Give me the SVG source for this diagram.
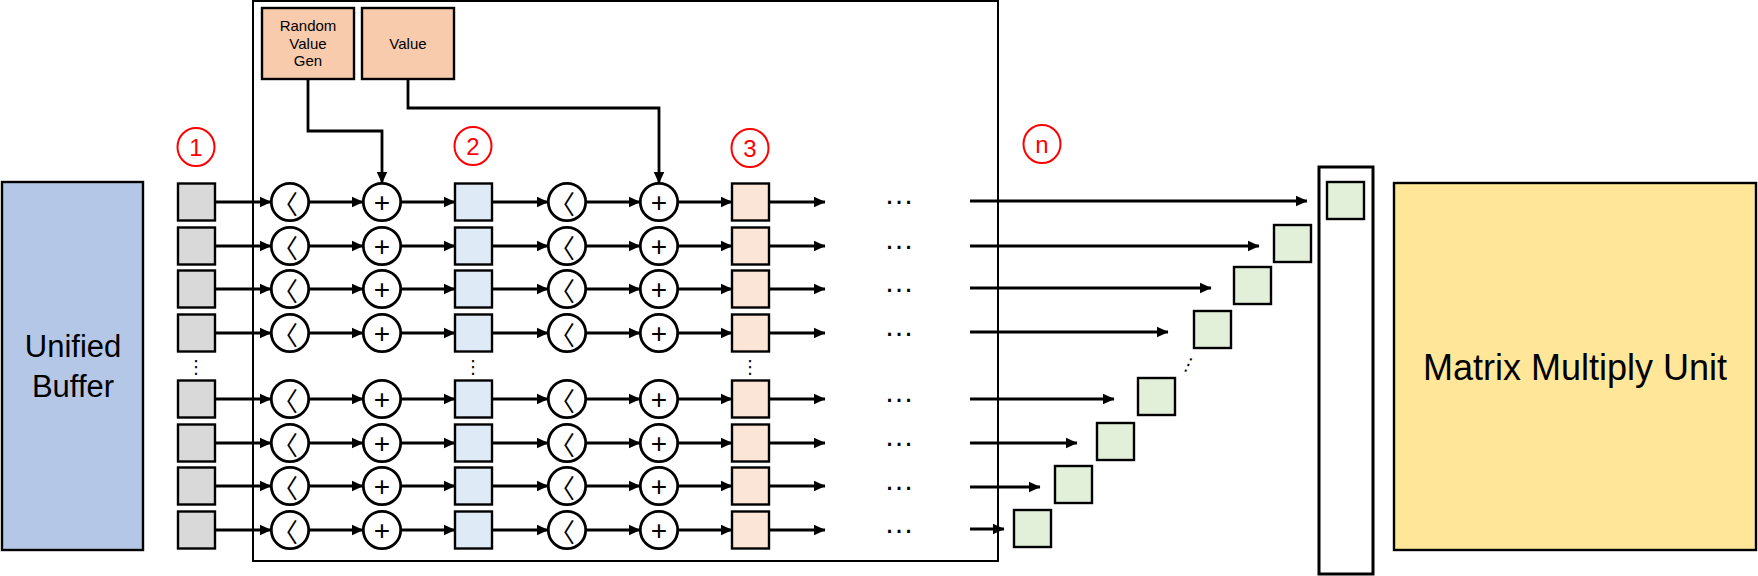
<svg xmlns="http://www.w3.org/2000/svg" width="1758" height="576" viewBox="0 0 1758 576">
<defs>
<marker id="ah" markerWidth="12" markerHeight="12" refX="11.5" refY="6" orient="auto" markerUnits="userSpaceOnUse"><path d="M0,0.5 L12,6 L0,11.5 z" fill="#000"/></marker>
<style>
.bx{stroke:#000;stroke-width:2.4}
.gray{fill:#D9D9D9}.blue{fill:#DEEBF7}.peach{fill:#FBE5D6}.org{fill:#F8CBAD}.grn{fill:#E2F0D9}
.op{fill:#fff;stroke:#000;stroke-width:2.8}
.lbl{fill:none;stroke:#FF0000;stroke-width:2}
.ln{fill:none;stroke:#000;stroke-width:2.8;marker-end:url(#ah)}
.sym{font-family:"Liberation Sans",Arial,sans-serif;font-size:28px;text-anchor:middle;dominant-baseline:central;fill:#000}
.chev{font-family:"Noto Sans CJK KR",sans-serif;font-size:26px;text-anchor:middle;dominant-baseline:central;fill:#000}
.red{font-family:"Liberation Sans",Arial,sans-serif;font-size:24px;text-anchor:middle;fill:#FF0000}
.t{font-family:"Liberation Sans",Arial,sans-serif;fill:#000;text-anchor:middle}
.dots{font-family:"Liberation Sans",Arial,sans-serif;font-size:30px;text-anchor:middle;fill:#000}
.vd{font-family:"DejaVu Sans",sans-serif;font-size:18px;text-anchor:middle;fill:#000}
</style>
</defs>

<g id="frame"><rect x="253" y="1" width="745" height="560" fill="none" stroke="#000" stroke-width="2"/></g>

<g id="unified-buffer"><rect class="bx" x="2" y="182" width="141" height="368" fill="#B4C7E7"/>
<text class="t" x="73" y="357" font-size="31">Unified</text><text class="t" x="73" y="397" font-size="31">Buffer</text></g>

<g id="random-value-gen"><rect class="bx org" x="262" y="8" width="92" height="71"/>
<text class="t" x="308" y="31" font-size="15">Random</text><text class="t" x="308" y="49" font-size="15">Value</text><text class="t" x="308" y="66" font-size="15">Gen</text></g>
<g id="value"><rect class="bx org" x="362" y="8" width="92" height="71"/>
<text class="t" x="408" y="49" font-size="15">Value</text></g>

<g id="labels">
<ellipse class="lbl" cx="196" cy="147" rx="18.5" ry="19"/><text class="red" x="196" y="156">1</text>
<ellipse class="lbl" cx="473" cy="146" rx="18.5" ry="19"/><text class="red" x="473" y="155">2</text>
<ellipse class="lbl" cx="750" cy="148" rx="18.5" ry="19"/><text class="red" x="750" y="157">3</text>
<ellipse class="lbl" cx="1042" cy="144" rx="18.5" ry="19"/><text class="red" x="1042" y="153">n</text>
</g>

<g id="input-regs">
<rect class="bx gray" x="178" y="183.5" width="37" height="37"/>
<rect class="bx gray" x="178" y="227.5" width="37" height="37"/>
<rect class="bx gray" x="178" y="270.5" width="37" height="37"/>
<rect class="bx gray" x="178" y="314.5" width="37" height="37"/>
<rect class="bx gray" x="178" y="380.5" width="37" height="37"/>
<rect class="bx gray" x="178" y="424.5" width="37" height="37"/>
<rect class="bx gray" x="178" y="467.5" width="37" height="37"/>
<rect class="bx gray" x="178" y="511.5" width="37" height="37"/>
<text class="vd" x="196" y="373">⋮</text>
</g>

<g id="stage1-regs">
<rect class="bx blue" x="455" y="183.5" width="37" height="37"/>
<rect class="bx blue" x="455" y="227.5" width="37" height="37"/>
<rect class="bx blue" x="455" y="270.5" width="37" height="37"/>
<rect class="bx blue" x="455" y="314.5" width="37" height="37"/>
<rect class="bx blue" x="455" y="380.5" width="37" height="37"/>
<rect class="bx blue" x="455" y="424.5" width="37" height="37"/>
<rect class="bx blue" x="455" y="467.5" width="37" height="37"/>
<rect class="bx blue" x="455" y="511.5" width="37" height="37"/>
<text class="vd" x="473" y="373">⋮</text>
</g>

<g id="stage2-regs">
<rect class="bx peach" x="732" y="183.5" width="37" height="37"/>
<rect class="bx peach" x="732" y="227.5" width="37" height="37"/>
<rect class="bx peach" x="732" y="270.5" width="37" height="37"/>
<rect class="bx peach" x="732" y="314.5" width="37" height="37"/>
<rect class="bx peach" x="732" y="380.5" width="37" height="37"/>
<rect class="bx peach" x="732" y="424.5" width="37" height="37"/>
<rect class="bx peach" x="732" y="467.5" width="37" height="37"/>
<rect class="bx peach" x="732" y="511.5" width="37" height="37"/>
<text class="vd" x="750" y="373">⋮</text>
</g>

<g id="compare-ops-1">
<circle class="op" cx="290" cy="202" r="18.7"/><text class="chev" x="285" y="202">〈</text>
<circle class="op" cx="290" cy="246" r="18.7"/><text class="chev" x="285" y="246">〈</text>
<circle class="op" cx="290" cy="289" r="18.7"/><text class="chev" x="285" y="289">〈</text>
<circle class="op" cx="290" cy="333" r="18.7"/><text class="chev" x="285" y="333">〈</text>
<circle class="op" cx="290" cy="399" r="18.7"/><text class="chev" x="285" y="399">〈</text>
<circle class="op" cx="290" cy="443" r="18.7"/><text class="chev" x="285" y="443">〈</text>
<circle class="op" cx="290" cy="486" r="18.7"/><text class="chev" x="285" y="486">〈</text>
<circle class="op" cx="290" cy="530" r="18.7"/><text class="chev" x="285" y="530">〈</text>
</g>
<g id="add-ops-1">
<circle class="op" cx="382" cy="202" r="18.7"/><text class="sym" x="382" y="202">+</text>
<circle class="op" cx="382" cy="246" r="18.7"/><text class="sym" x="382" y="246">+</text>
<circle class="op" cx="382" cy="289" r="18.7"/><text class="sym" x="382" y="289">+</text>
<circle class="op" cx="382" cy="333" r="18.7"/><text class="sym" x="382" y="333">+</text>
<circle class="op" cx="382" cy="399" r="18.7"/><text class="sym" x="382" y="399">+</text>
<circle class="op" cx="382" cy="443" r="18.7"/><text class="sym" x="382" y="443">+</text>
<circle class="op" cx="382" cy="486" r="18.7"/><text class="sym" x="382" y="486">+</text>
<circle class="op" cx="382" cy="530" r="18.7"/><text class="sym" x="382" y="530">+</text>
</g>
<g id="compare-ops-2">
<circle class="op" cx="567" cy="202" r="18.7"/><text class="chev" x="562" y="202">〈</text>
<circle class="op" cx="567" cy="246" r="18.7"/><text class="chev" x="562" y="246">〈</text>
<circle class="op" cx="567" cy="289" r="18.7"/><text class="chev" x="562" y="289">〈</text>
<circle class="op" cx="567" cy="333" r="18.7"/><text class="chev" x="562" y="333">〈</text>
<circle class="op" cx="567" cy="399" r="18.7"/><text class="chev" x="562" y="399">〈</text>
<circle class="op" cx="567" cy="443" r="18.7"/><text class="chev" x="562" y="443">〈</text>
<circle class="op" cx="567" cy="486" r="18.7"/><text class="chev" x="562" y="486">〈</text>
<circle class="op" cx="567" cy="530" r="18.7"/><text class="chev" x="562" y="530">〈</text>
</g>
<g id="add-ops-2">
<circle class="op" cx="659" cy="202" r="18.7"/><text class="sym" x="659" y="202">+</text>
<circle class="op" cx="659" cy="246" r="18.7"/><text class="sym" x="659" y="246">+</text>
<circle class="op" cx="659" cy="289" r="18.7"/><text class="sym" x="659" y="289">+</text>
<circle class="op" cx="659" cy="333" r="18.7"/><text class="sym" x="659" y="333">+</text>
<circle class="op" cx="659" cy="399" r="18.7"/><text class="sym" x="659" y="399">+</text>
<circle class="op" cx="659" cy="443" r="18.7"/><text class="sym" x="659" y="443">+</text>
<circle class="op" cx="659" cy="486" r="18.7"/><text class="sym" x="659" y="486">+</text>
<circle class="op" cx="659" cy="530" r="18.7"/><text class="sym" x="659" y="530">+</text>
</g>

<g id="ellipses">
<text class="dots" x="899" y="204">…</text>
<text class="dots" x="899" y="249">…</text>
<text class="dots" x="899" y="292">…</text>
<text class="dots" x="899" y="336">…</text>
<text class="dots" x="899" y="402">…</text>
<text class="dots" x="899" y="446">…</text>
<text class="dots" x="899" y="490">…</text>
<text class="dots" x="899" y="533">…</text>
</g>

<g id="output-regs">
<rect class="bx grn" x="1327" y="182" width="37" height="37"/>
<rect class="bx grn" x="1274" y="225" width="37" height="37"/>
<rect class="bx grn" x="1234" y="267" width="37" height="37"/>
<rect class="bx grn" x="1194" y="311" width="37" height="37"/>
<rect class="bx grn" x="1138" y="378" width="37" height="37"/>
<rect class="bx grn" x="1097" y="423" width="37" height="37"/>
<rect class="bx grn" x="1055" y="466" width="37" height="37"/>
<rect class="bx grn" x="1014" y="510" width="37" height="37"/>
<text class="vd" transform="translate(1186,370) rotate(25)" x="0" y="0">⋮</text>
</g>

<g id="input-column"><rect x="1319" y="167" width="54" height="407" fill="none" stroke="#000" stroke-width="3"/></g>

<g id="matrix-multiply-unit"><rect class="bx" x="1394" y="183" width="362" height="367" fill="#FFE699"/>
<text class="t" x="1575" y="380" font-size="36">Matrix Multiply Unit</text></g>

<g id="connectors">
<path class="ln" d="M308,79 V131 H382 V183"/>
<path class="ln" d="M408,79 V108 H659 V183"/>
<line class="ln" x1="215" y1="202" x2="271" y2="202"/><line class="ln" x1="309" y1="202" x2="363" y2="202"/><line class="ln" x1="401" y1="202" x2="455" y2="202"/><line class="ln" x1="492" y1="202" x2="548" y2="202"/><line class="ln" x1="586" y1="202" x2="640" y2="202"/><line class="ln" x1="678" y1="202" x2="732" y2="202"/><line class="ln" x1="769" y1="202" x2="825" y2="202"/>
<line class="ln" x1="215" y1="246" x2="271" y2="246"/><line class="ln" x1="309" y1="246" x2="363" y2="246"/><line class="ln" x1="401" y1="246" x2="455" y2="246"/><line class="ln" x1="492" y1="246" x2="548" y2="246"/><line class="ln" x1="586" y1="246" x2="640" y2="246"/><line class="ln" x1="678" y1="246" x2="732" y2="246"/><line class="ln" x1="769" y1="246" x2="825" y2="246"/>
<line class="ln" x1="215" y1="289" x2="271" y2="289"/><line class="ln" x1="309" y1="289" x2="363" y2="289"/><line class="ln" x1="401" y1="289" x2="455" y2="289"/><line class="ln" x1="492" y1="289" x2="548" y2="289"/><line class="ln" x1="586" y1="289" x2="640" y2="289"/><line class="ln" x1="678" y1="289" x2="732" y2="289"/><line class="ln" x1="769" y1="289" x2="825" y2="289"/>
<line class="ln" x1="215" y1="333" x2="271" y2="333"/><line class="ln" x1="309" y1="333" x2="363" y2="333"/><line class="ln" x1="401" y1="333" x2="455" y2="333"/><line class="ln" x1="492" y1="333" x2="548" y2="333"/><line class="ln" x1="586" y1="333" x2="640" y2="333"/><line class="ln" x1="678" y1="333" x2="732" y2="333"/><line class="ln" x1="769" y1="333" x2="825" y2="333"/>
<line class="ln" x1="215" y1="399" x2="271" y2="399"/><line class="ln" x1="309" y1="399" x2="363" y2="399"/><line class="ln" x1="401" y1="399" x2="455" y2="399"/><line class="ln" x1="492" y1="399" x2="548" y2="399"/><line class="ln" x1="586" y1="399" x2="640" y2="399"/><line class="ln" x1="678" y1="399" x2="732" y2="399"/><line class="ln" x1="769" y1="399" x2="825" y2="399"/>
<line class="ln" x1="215" y1="443" x2="271" y2="443"/><line class="ln" x1="309" y1="443" x2="363" y2="443"/><line class="ln" x1="401" y1="443" x2="455" y2="443"/><line class="ln" x1="492" y1="443" x2="548" y2="443"/><line class="ln" x1="586" y1="443" x2="640" y2="443"/><line class="ln" x1="678" y1="443" x2="732" y2="443"/><line class="ln" x1="769" y1="443" x2="825" y2="443"/>
<line class="ln" x1="215" y1="486" x2="271" y2="486"/><line class="ln" x1="309" y1="486" x2="363" y2="486"/><line class="ln" x1="401" y1="486" x2="455" y2="486"/><line class="ln" x1="492" y1="486" x2="548" y2="486"/><line class="ln" x1="586" y1="486" x2="640" y2="486"/><line class="ln" x1="678" y1="486" x2="732" y2="486"/><line class="ln" x1="769" y1="486" x2="825" y2="486"/>
<line class="ln" x1="215" y1="530" x2="271" y2="530"/><line class="ln" x1="309" y1="530" x2="363" y2="530"/><line class="ln" x1="401" y1="530" x2="455" y2="530"/><line class="ln" x1="492" y1="530" x2="548" y2="530"/><line class="ln" x1="586" y1="530" x2="640" y2="530"/><line class="ln" x1="678" y1="530" x2="732" y2="530"/><line class="ln" x1="769" y1="530" x2="825" y2="530"/>
<line class="ln" x1="970" y1="201" x2="1307" y2="201"/>
<line class="ln" x1="970" y1="246" x2="1259" y2="246"/>
<line class="ln" x1="970" y1="288" x2="1211" y2="288"/>
<line class="ln" x1="970" y1="332" x2="1168" y2="332"/>
<line class="ln" x1="970" y1="399" x2="1114" y2="399"/>
<line class="ln" x1="970" y1="443" x2="1077" y2="443"/>
<line class="ln" x1="970" y1="487" x2="1040" y2="487"/>
<line class="ln" x1="970" y1="529" x2="1004" y2="529"/>
</g>
</svg>
